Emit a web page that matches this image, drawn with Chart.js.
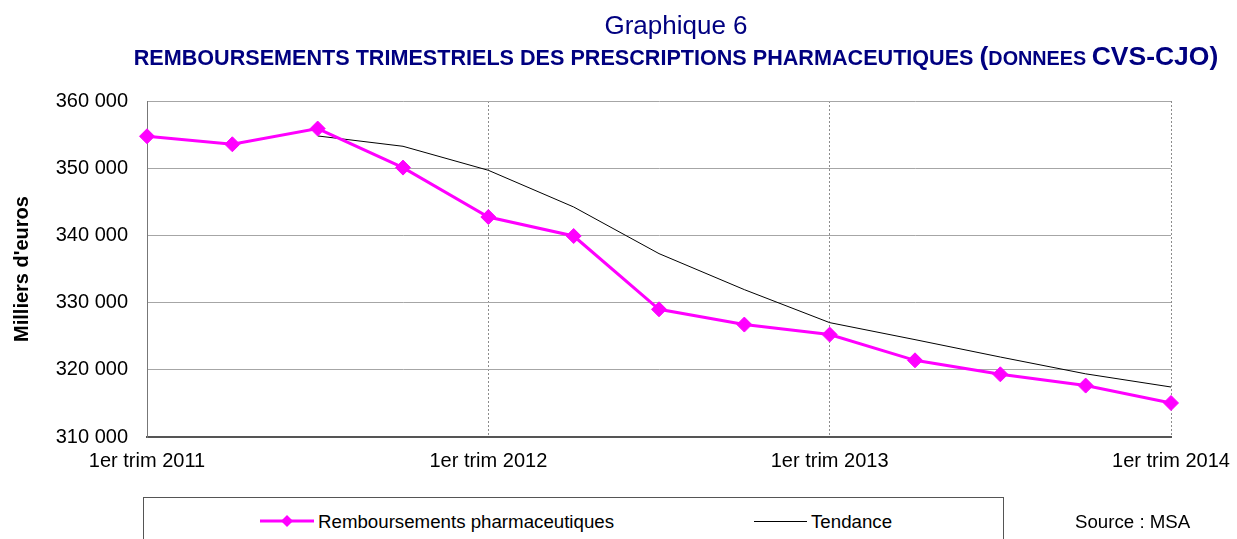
<!DOCTYPE html>
<html>
<head>
<meta charset="utf-8">
<script src="https://cdn.jsdelivr.net/npm/chart.js@4"></script>
<style>
  body { margin: 0; background: #fff; }
  #wrap { position: relative; width: 1237px; height: 539px; overflow: hidden; font-family: 'Liberation Sans', Arial, sans-serif; }
  #phcanvas { position: absolute; left: 0; top: 0; }
  .txt { position: absolute; white-space: nowrap; line-height: 1; }
  #titre { left: 0; width: 1352px; text-align: center; top: 12px; font-size: 26px; color: #000080; }
  #sstitre { left: 0; width: 1352px; text-align: center; top: 43px; font-size: 21.6px; font-weight: bold; color: #000080; }
  #legende { position: absolute; left: 143px; top: 497px; width: 859px; height: 60px; border: 1px solid #555; background: #fff; }
  .leg { position: absolute; top: 15px; font-size: 18.7px; color: #000; line-height: 1; }
  #source { left: 1075px; top: 513px; font-size: 18.7px; color: #000; }
</style>
</head>
<body>
<div id="wrap">
  <canvas id="phcanvas" width="1237" height="539"></canvas>
  <div class="txt" id="titre">Graphique 6</div>
  <div class="txt" id="sstitre">REMBOURSEMENTS TRIMESTRIELS DES PRESCRIPTIONS PHARMACEUTIQUES <span style="font-size:26.5px">(</span><span style="font-size:19.8px">DONNEES </span><span style="font-size:26.5px">CVS-CJO)</span></div>
  <div id="legende">
    <svg style="position:absolute;left:116px;top:14px" width="54" height="16">
      <line x1="0" y1="9" x2="54" y2="9" stroke="#ff00ff" stroke-width="3"/>
      <polygon points="27,3 33,9 27,15 21,9" fill="#ff00ff"/>
    </svg>
    <div class="leg" style="left:174px">Remboursements pharmaceutiques</div>
    <svg style="position:absolute;left:610px;top:14px" width="54" height="16">
      <line x1="0" y1="9.5" x2="53" y2="9.5" stroke="#000" stroke-width="1"/>
    </svg>
    <div class="leg" style="left:667px">Tendance</div>
  </div>
  <div class="txt" id="source">Source : MSA</div>
</div>
<script>
var trimestres = [
  "1er trim 2011", "2e trim 2011", "3e trim 2011", "4e trim 2011",
  "1er trim 2012", "2e trim 2012", "3e trim 2012", "4e trim 2012",
  "1er trim 2013", "2e trim 2013", "3e trim 2013", "4e trim 2013",
  "1er trim 2014"
];
var remboursements = [354750, 353560, 355900, 350090, 342740, 339910, 329000, 326730, 325240, 321410, 319330, 317650, 315060];
var tendance = [null, null, 354800, 353260, 349690, 344230, 337290, 331930, 327020, 324490, 321900, 319400, 317440];
var yMin = 310000, yMax = 360000, yPas = 10000;

function milliers(v) {
  return String(v).replace(/\B(?=(\d{3})+(?!\d))/g, ' ');
}

var police = "'Liberation Sans', Arial, sans-serif";
var ctx_live = document.getElementById("phcanvas");
var myChart = new Chart(ctx_live, {
  type: 'line',
  data: {
    labels: trimestres,
    datasets: [{
      label: 'Remboursements pharmaceutiques',
      data: remboursements,
      borderColor: '#ff00ff',
      backgroundColor: '#ff00ff',
      borderWidth: 3,
      pointStyle: 'rectRot',
      pointRadius: 7.5,
      pointBorderWidth: 1,
      tension: 0,
      fill: false
    }, {
      label: 'Tendance',
      data: tendance,
      borderColor: '#000000',
      borderWidth: 1,
      pointRadius: 0,
      tension: 0,
      fill: false
    }]
  },
  options: {
    responsive: false,
    devicePixelRatio: 1,
    animation: false,
    layout: { padding: { top: 101, right: 66, bottom: 66, left: 0 } },
    plugins: {
      legend: { display: false },
      title: { display: false },
      tooltip: { enabled: false }
    },
    scales: {
      x: {
        offset: false,
        grid: {
          drawTicks: false,
          color: function(c) { return c.index % 4 === 0 ? '#8c8c8c' : 'rgba(0,0,0,0)'; },
          borderDash: [2, 2]
        },
        border: { color: '#555', width: 2, dash: [2, 2] },
        ticks: {
          autoSkip: false,
          maxRotation: 0,
          padding: 12,
          color: '#000',
          font: { family: police, size: 20 },
          callback: function(v, i) { return i % 4 === 0 ? trimestres[i] : ''; }
        },
        afterFit: function(s) { s.height = 36; s.paddingLeft = 0; s.paddingRight = 0; }
      },
      y: {
        min: yMin,
        max: yMax,
        grid: { drawTicks: false, color: '#a6a6a6', lineWidth: 1 },
        border: { color: '#777', width: 1 },
        ticks: {
          stepSize: yPas,
          padding: 19,
          color: '#000',
          font: { family: police, size: 20 },
          callback: function(v) { return milliers(v); }
        },
        title: {
          display: true,
          text: "Milliers d'euros",
          color: '#000',
          font: { family: police, size: 20, weight: 'bold' },
          padding: { top: 10, bottom: 0 }
        },
        afterFit: function(s) { s.width = 147; }
      }
    }
  }
});
</script>
</body>
</html>
